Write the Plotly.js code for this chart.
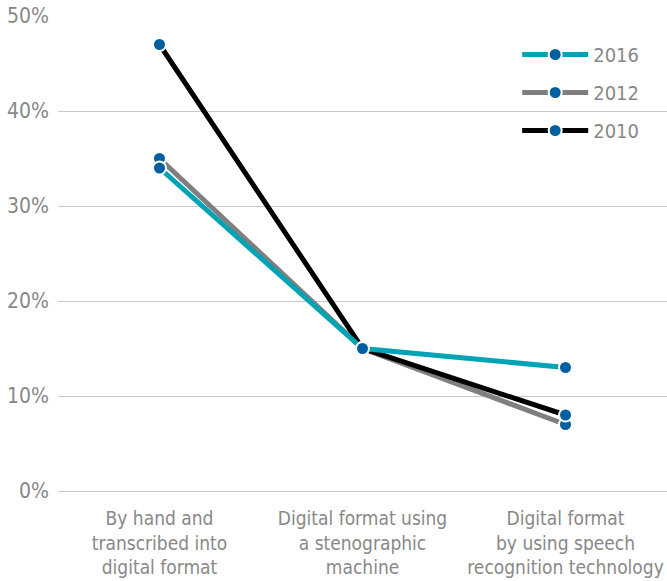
<!DOCTYPE html>
<html><head><meta charset="utf-8">
<script src="https://cdn.plot.ly/plotly-3.0.1.min.js"></script>
<style>html,body{margin:0;padding:0;background:#fff}#chart{width:667px;height:581px}</style>
</head><body><div id="chart"></div>
<script>
const categories = ["By hand and<br>transcribed into<br>digital format", "Digital format using<br>a stenographic<br>machine", "Digital format<br>by using speech<br>recognition technology"];
const years = ["2016", "2012", "2010"];
const values2016 = [34, 15, 13];
const values2012 = [35, 15, 7];
const values2010 = [47, 15, 8];
const lineColors = {"2016": "#00a3b4", "2012": "#7f7f7f", "2010": "#000000"};
const markerColor = "#00609f";
const font = "DejaVu Sans Condensed, Liberation Sans Narrow, sans-serif";

function tr(name, vals, rank) {
  return {
    type: "scatter", mode: "lines+markers", name: name, legendgroup: name,
    x: categories, y: vals, legendrank: rank,
    line: {color: lineColors[name], width: 5},
    marker: {color: markerColor, size: 13, line: {color: "#fff", width: 2}},
    hoverinfo: "skip"
  };
}
const data = [tr("2012", values2012, 2), tr("2010", values2010, 3), tr("2016", values2016, 1)];
const layout = {
  width: 667, height: 581,
  margin: {l: 58, r: 0, t: 16, b: 90},
  paper_bgcolor: "#fff", plot_bgcolor: "#fff",
  font: {family: font, color: "#888888", size: 20},
  showlegend: true,
  legend: {x: 0.754, y: 0.96, xanchor: "left", yanchor: "top", traceorder: "grouped", tracegroupgap: 9,
           font: {size: 20, color: "#888888"}, itemwidth: 66, bgcolor: "rgba(0,0,0,0)"},
  xaxis: {type: "category", range: [-0.5, 2.5], showgrid: false, zeroline: false, showline: false, ticks: "",
          ticklabelstandoff: 14, tickfont: {size: 19, color: "#888888"}},
  yaxis: {range: [0, 50], dtick: 10, ticksuffix: "%", showgrid: true, gridcolor: "#c8c8c8", gridwidth: 1,
          zeroline: true, zerolinecolor: "#c8c8c8", zerolinewidth: 1, showline: false, ticks: "",
          ticklabelstandoff: 8, tickfont: {size: 21, color: "#888888"}}
};
Plotly.newPlot("chart", data, layout, {displayModeBar: false, staticPlot: true});
</script></body></html>
